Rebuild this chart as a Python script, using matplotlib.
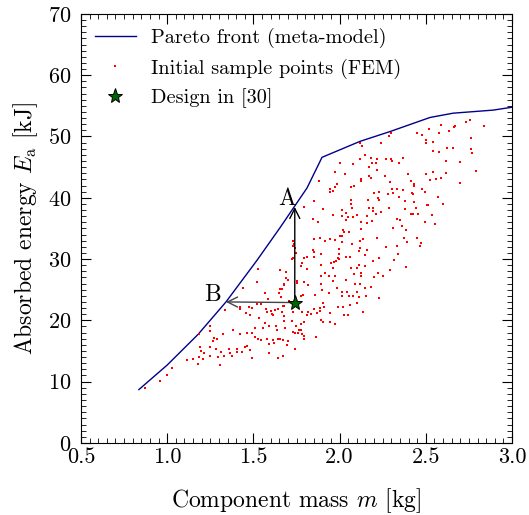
import matplotlib
matplotlib.use('Agg')
import matplotlib.pyplot as plt
from matplotlib.ticker import MultipleLocator

plt.rcParams['font.family'] = 'serif'
plt.rcParams['font.serif'] = ['cmr10']
plt.rcParams['mathtext.fontset'] = 'cm'
plt.rcParams['axes.formatter.use_mathtext'] = True

# Pareto front (meta-model)
pareto_m = [0.836, 1.0, 1.179, 1.341, 1.521, 1.654, 1.741, 1.811, 1.898, 2.118, 2.292, 2.524, 2.658, 2.890, 3.006]
pareto_E = [8.7, 12.7, 17.7, 23.0, 29.8, 35.1, 38.7, 41.6, 46.6, 49.2, 50.8, 53.1, 53.8, 54.3, 54.8]

# Initial sample points (FEM)
sample_m = [
    2.296, 2.285, 2.238, 2.118, 2.130, 2.149, 2.118, 2.182, 2.217, 2.186, 2.209, 2.268, 2.297, 2.306, 2.346,
    2.004, 2.076, 2.169, 2.215, 1.973, 2.030, 2.170, 2.263, 2.124, 2.124, 2.182, 1.882, 1.983, 1.975, 2.064,
    2.083, 2.294, 2.306, 2.333, 2.279, 2.311, 2.343, 1.944, 1.960, 1.944, 2.201, 2.230, 2.221, 2.230, 2.163,
    2.066, 1.851, 2.064, 2.072, 1.792, 2.170, 2.192, 2.286, 1.906, 2.016, 2.035, 1.963, 2.012, 2.049, 2.076,
    2.101, 2.039, 2.159, 2.195, 2.209, 2.240, 1.846,
    2.756, 2.733, 2.839, 2.667, 2.661, 2.586, 2.633, 2.520, 2.449, 2.480, 2.574, 2.503, 2.501, 2.543, 2.760,
    2.621, 2.656, 2.760, 2.766, 2.543, 2.574, 2.366, 2.615, 2.698, 2.791, 2.395, 2.503, 2.543, 2.615, 2.586,
    2.559, 2.526, 2.416, 2.433, 2.429, 2.700, 2.369, 2.480, 2.493, 2.421, 2.425, 2.569, 2.377, 2.429, 2.505,
    2.511, 2.598, 2.379, 2.441, 2.412, 2.424, 2.453, 2.536,
    2.350, 2.362, 2.387, 2.495, 2.551, 2.373, 2.389, 2.450, 2.474, 2.466, 2.387,
    2.331, 1.872, 2.124, 2.157, 2.188, 2.307, 2.019, 2.027, 2.052, 2.004, 2.012, 2.122, 1.851, 1.886, 1.913,
    1.944, 1.971, 2.014, 2.072, 2.116, 2.133, 2.218, 1.731, 1.735, 1.727, 1.741, 1.847, 1.853, 1.994, 1.998,
    2.118, 2.112, 2.159, 2.269, 2.331, 2.340, 1.747, 1.809, 1.791, 1.780, 1.774, 1.851, 1.894, 1.988, 1.994,
    1.979, 1.948, 1.969, 2.039, 2.062, 2.147, 2.226, 2.317, 1.727, 1.722, 1.813, 1.890, 1.959, 2.064, 2.102,
    2.114, 2.147, 2.191, 2.294, 2.220, 1.654, 1.689, 1.915, 1.938, 1.894, 1.975, 2.081, 2.126, 2.126, 2.199,
    2.253, 1.687, 1.698, 1.679, 1.755, 1.751, 1.793, 1.959, 2.039, 2.089, 2.118, 2.149, 2.182, 2.230, 1.818,
    1.892, 1.983, 2.014, 2.041, 2.012, 2.052, 2.077, 2.099, 1.900, 1.938, 1.785, 1.776, 1.855, 2.099, 2.155,
    2.114, 1.662, 1.654, 1.708, 1.669, 1.905, 1.909, 1.886, 1.853, 1.988, 2.017, 2.060, 2.137, 1.784, 1.818,
    1.832, 1.809, 1.793, 1.867, 1.886, 1.944, 1.666, 1.731, 1.892, 1.901, 1.944, 1.973, 1.726, 2.027, 2.050,
    1.681, 1.745, 1.731, 1.739, 1.756, 1.764, 1.776, 1.778, 1.782, 1.795, 1.795, 1.863, 1.654, 1.700, 1.696,
    1.739,
    1.528, 1.520, 1.437, 1.567, 1.586, 1.648, 1.664, 1.677, 1.519, 1.544, 1.573, 1.600, 1.625, 1.644, 1.677,
    1.422, 1.422, 1.457, 1.480, 1.474, 1.490, 1.335, 1.577, 1.606, 1.615, 1.534, 1.569, 1.555, 1.590, 1.631,
    1.635, 1.677, 1.675, 1.246, 1.248, 1.379, 1.509, 1.461, 1.490, 1.509, 1.528, 1.544, 1.577, 1.611, 1.640,
    1.590, 1.617, 1.673, 1.271, 1.287, 1.265, 1.321, 1.422, 1.190, 1.196, 1.215, 1.248, 1.248, 1.283, 1.312,
    1.331, 1.360, 1.364, 1.374, 1.406, 1.406, 1.432, 1.451, 1.464, 1.480, 1.490, 1.592, 1.644, 1.673, 1.113,
    1.147, 1.182, 1.205, 1.178, 1.292, 1.308, 1.030, 1.001, 0.958, 0.869, 1.182,
]
sample_E = [
    50.6, 50.1, 48.9, 48.9, 48.5, 47.0, 46.4, 46.5, 46.4, 45.6, 45.6, 46.3, 46.3, 46.0, 45.6,
    45.6, 45.5, 45.1, 44.5, 44.2, 43.8, 43.6, 43.5, 43.1, 42.7, 43.2, 42.7, 42.2, 41.8, 41.8,
    42.0, 42.5, 41.4, 41.4, 40.6, 40.7, 40.1, 41.5, 41.1, 40.9, 40.8, 40.9, 39.9, 39.7, 39.6,
    39.6, 39.5, 39.0, 38.4, 38.5, 38.4, 38.4, 38.3, 38.1, 38.0, 37.5, 37.2, 37.0, 36.9, 36.8,
    37.2, 36.4, 37.1, 37.9, 37.3, 37.6, 36.6,
    52.7, 52.3, 51.7, 51.7, 51.5, 51.9, 50.9, 51.2, 50.6, 50.2, 50.5, 49.4, 48.9, 49.1, 49.7,
    48.2, 48.2, 47.9, 47.3, 47.6, 47.5, 46.5, 46.0, 45.8, 44.4, 43.8, 43.9, 44.2, 44.1, 43.2,
    43.1, 42.9, 42.8, 42.2, 41.9, 42.4, 41.2, 41.4, 41.0, 40.7, 40.6, 40.2, 39.4, 39.3, 38.9,
    38.9, 39.0, 38.2, 38.3, 37.3, 37.3, 37.3, 37.2,
    36.3, 35.4, 34.7, 36.0, 35.7, 33.4, 32.8, 33.4, 32.6, 32.2, 28.7,
    36.6, 36.1, 36.0, 35.9, 36.2, 35.1, 34.7, 34.4, 34.4, 33.8, 33.8, 34.9, 33.2, 33.5, 33.0,
    33.2, 33.1, 32.7, 32.5, 32.9, 33.3, 33.5, 32.9, 32.5, 32.2, 31.8, 31.4, 31.2, 31.6, 30.9,
    31.8, 31.3, 31.5, 32.0, 32.1, 30.8, 31.0, 30.3, 30.1, 29.4, 28.8, 30.3, 30.8, 30.2, 30.0,
    29.7, 29.4, 29.5, 30.4, 30.3, 30.7, 30.1, 29.9, 30.2, 30.0, 28.3, 29.0, 28.5, 28.5, 28.6,
    29.1, 28.8, 29.6, 28.2, 27.8, 28.2, 27.9, 27.8, 27.3, 27.2, 27.2, 27.5, 27.8, 27.3, 27.1,
    27.2, 26.9, 26.5, 25.7, 26.4, 26.1, 26.3, 26.4, 26.5, 25.9, 25.9, 25.3, 25.5, 23.7, 25.7,
    25.9, 25.2, 24.7, 24.7, 23.9, 24.0, 23.9, 24.7, 25.0, 24.4, 24.1, 23.9, 24.1, 22.9, 24.0,
    23.8, 23.8, 25.1, 23.2, 22.4, 22.9, 22.2, 22.0, 21.9, 22.2, 22.2, 22.5, 21.4, 21.4, 21.4,
    21.0, 20.9, 19.8, 21.2, 21.5, 21.2, 21.3, 21.4, 20.0, 19.8, 19.7, 19.4, 19.9, 20.8, 20.9,
    18.8, 19.1, 18.1, 18.0, 18.0, 18.4, 18.5, 19.4, 17.8, 17.5, 17.0, 17.3, 17.0, 16.6, 15.9,
    15.4,
    28.3, 26.2, 25.2, 24.4, 23.5, 24.4, 25.1, 25.9, 22.6, 22.6, 21.9, 21.6, 21.7, 21.9, 22.4,
    22.2, 21.9, 21.2, 20.8, 22.2, 22.0, 21.7, 21.3, 21.0, 20.8, 20.3, 19.5, 18.8, 19.1, 19.1,
    18.5, 20.7, 19.9, 19.0, 18.3, 18.4, 18.7, 17.9, 17.9, 17.2, 16.9, 16.8, 16.9, 16.8, 17.0,
    16.1, 16.3, 16.8, 17.1, 16.9, 16.7, 17.7, 17.8, 15.6, 15.0, 14.6, 15.6, 14.2, 15.4, 14.8,
    14.1, 15.4, 14.6, 14.2, 15.4, 14.9, 14.9, 15.7, 15.8, 15.2, 13.8, 14.6, 13.8, 14.1, 13.5,
    13.7, 14.0, 13.7, 12.8, 14.0, 12.7, 12.2, 11.1, 10.1, 8.9, 17.7,
]

# Design in [30] and the two improvement directions
design_m, design_E = 1.74, 22.9
A_m, A_E = 1.74, 38.5
B_m, B_E = 1.341, 23.0

fig = plt.figure(figsize=(5.29, 5.15), dpi=100)
ax = fig.add_axes([0.153, 0.140, 0.815, 0.833])

ax.plot(pareto_m, pareto_E, '-', color='#00008b', lw=1.0, label='Pareto front (meta-model)')
ax.plot(sample_m, sample_E, 's', color='red', ms=1.6, mew=0, ls='none', label='Initial sample points (FEM)')

ax.annotate('', xy=(A_m, A_E), xytext=(design_m, design_E),
            arrowprops=dict(arrowstyle='->', color='black', lw=1.0, shrinkA=0, shrinkB=0,
                            mutation_scale=18))
ax.annotate('', xy=(B_m, B_E), xytext=(design_m, design_E),
            arrowprops=dict(arrowstyle='->', color='#444444', lw=1.0, shrinkA=0, shrinkB=0,
                            mutation_scale=18))
ax.text(1.693, 39.8, 'A', fontsize=17, ha='center', va='center')
ax.text(1.264, 24.1, 'B', fontsize=17, ha='center', va='center')

ax.plot([design_m], [design_E], '*', color='#006400', mec='black', mew=0.7, ms=11,
        ls='none', label='Design in [30]', zorder=5)

ax.set_xlim(0.5, 3.0)
ax.set_ylim(0, 70)
ax.xaxis.set_major_locator(MultipleLocator(0.5))
ax.xaxis.set_minor_locator(MultipleLocator(0.05))
ax.yaxis.set_major_locator(MultipleLocator(10))
ax.yaxis.set_minor_locator(MultipleLocator(1))
ax.tick_params(which='both', direction='in', top=True, right=True, labelsize=16)
ax.tick_params(which='major', length=7, width=0.8)
ax.tick_params(which='minor', length=3.5, width=0.6)
ax.tick_params(axis='y', which='major', pad=7)
ax.xaxis.set_major_formatter(plt.FuncFormatter(lambda v, p: f'{v:.1f}'))

ax.set_xlabel('Component mass $m$ [kg]', fontsize=17, labelpad=14)
ax.set_ylabel(r'Absorbed energy $E_\mathrm{a}$ [kJ]', fontsize=17, labelpad=6)

ax.legend(loc='upper left', frameon=False, fontsize=14.6, handlelength=2.0,
          handletextpad=0.75, markerscale=1.0, borderaxespad=0.3, labelspacing=0.5)

fig.savefig('out.png', dpi=100)
